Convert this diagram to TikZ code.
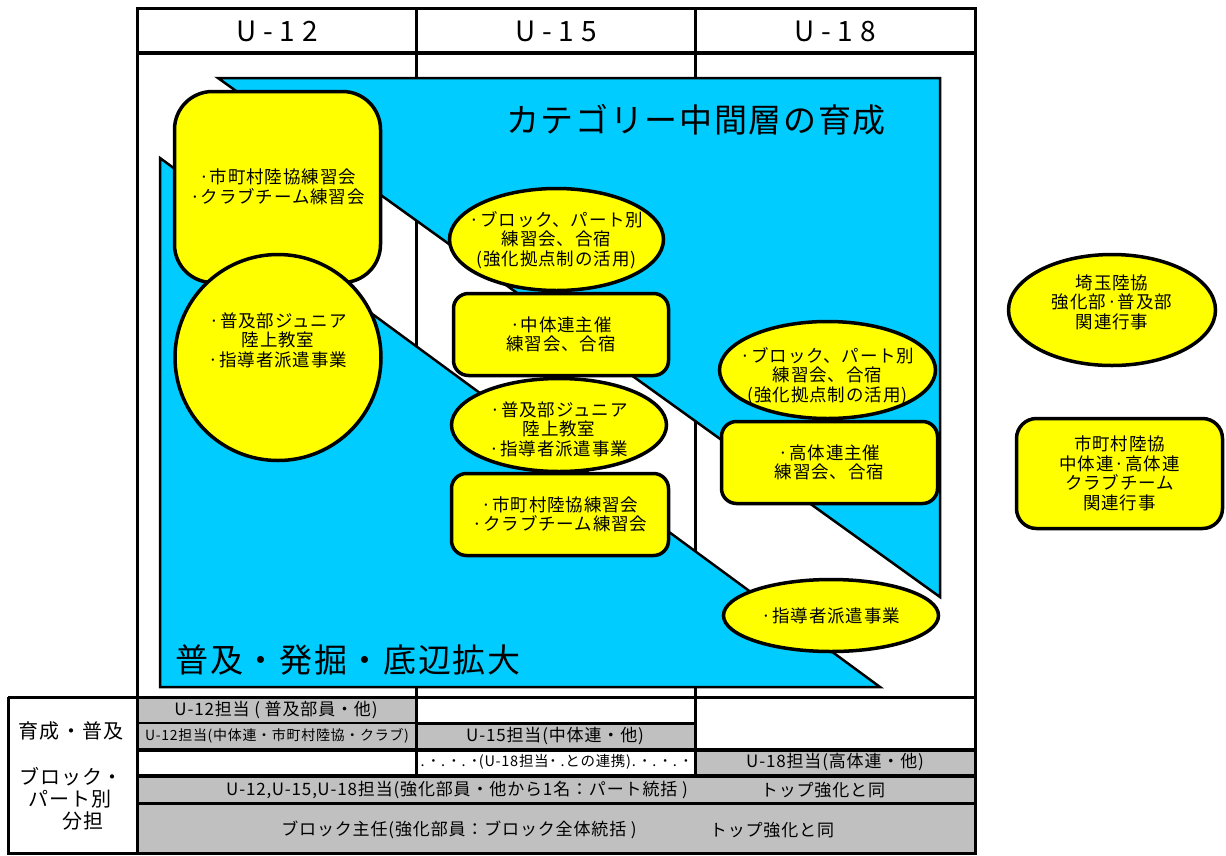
\documentclass[tikz,border=0pt]{standalone}
\usepackage{fontspec}
\setmainfont{Noto Sans CJK JP}[LetterSpace=5]
\newfontfamily\hdrfont{Noto Sans CJK JP}[LetterSpace=25]
\usetikzlibrary{shapes.geometric}
\definecolor{cyanbg}{RGB}{0,204,255}
\definecolor{yel}{RGB}{255,255,0}
\definecolor{gcell}{RGB}{192,192,192}
\tikzset{
  frameline/.style={line width=3pt},
  tri/.style={fill=cyanbg, draw=black, line width=2.5pt, line join=miter},
  ynode/.style={fill=yel, draw=black, line width=3.5pt, inner sep=0pt, align=center,
    font=\fontsize{17.5}{19.5}\selectfont},
  yell/.style={ynode, ellipse},
  yrect/.style={ynode, rectangle},
  txt/.style={inner sep=0pt, align=center, font=\fontsize{17.5}{19.5}\selectfont},
  ttl/.style={inner sep=0pt, font=\fontsize{33}{36}\selectfont},
  hdr/.style={inner sep=0pt, font=\fontsize{28}{30}\hdrfont},
  tcell/.style={inner sep=0pt, font=\fontsize{17}{19}\selectfont},
  tsmall/.style={inner sep=0pt, font=\fontsize{14}{16}\selectfont},
  tdots/.style={inner sep=0pt, font=\fontsize{14.5}{16}\selectfont},
  lab/.style={inner sep=0pt, font=\fontsize{20}{22}\selectfont},
}
\begin{document}
\begin{tikzpicture}[x=1pt,y=-1pt]
\useasboundingbox (0,0) rectangle (1226,855);
\fill[white] (0,0) rectangle (1226,855);

% column lines (behind the blue areas)
\draw[frameline] (416,8) -- (416,697);
\draw[frameline] (695,8) -- (695,697);

% blue areas
\draw[tri] (218,78) -- (940,78) -- (940,597) -- cycle;
\draw[tri] (160,158) -- (160,687) -- (880,687) -- cycle;

% frame and header
\draw[frameline] (137,8) rectangle (975,697);
\draw[line width=4pt] (137,53) -- (975,53);
\node[hdr] (h12) at (277,31) {U-12};
\node[hdr] (h15) at (556,31) {U-15};
\node[hdr] (h18) at (835,31) {U-18};

% titles
\node[ttl] (t1) at (696,120) {カテゴリー中間層の育成};
\node[ttl] (t2) at (348,660) {普及・発掘・底辺拡大};

% U-12 column
\node[yrect, rounded corners=38pt, minimum width=206, minimum height=191] (n1) at (277.5,187)
  {·市町村陸協練習会\\·クラブチーム練習会};
\node[ynode, circle, minimum size=206] (n2) at (278,357.5) {};
\node[txt] (n2t) at (278,340) {·普及部ジュニア\\陸上教室\\·指導者派遣事業};

% U-15 column
\node[yell, minimum width=214, minimum height=102] (n3) at (556.5,239.5) {};
\node[txt] (n3t) at (556.5,240) {·ブロック、パート別\\練習会、合宿\\(強化拠点制の活用)};
\node[yrect, rounded corners=15pt, minimum width=215, minimum height=82] (n4) at (561,334.5)
  {·中体連主催\\練習会、合宿};
\node[yell, minimum width=215, minimum height=93] (n5) at (559,425) {};
\node[txt] (n5t) at (559,429) {·普及部ジュニア\\陸上教室\\·指導者派遣事業};
\node[yrect, rounded corners=15pt, minimum width=217, minimum height=82] (n6) at (560,514.5)
  {·市町村陸協練習会\\·クラブチーム練習会};

% U-18 column
\node[yell, minimum width=216, minimum height=97] (n7) at (827.5,370) {};
\node[txt] (n7t) at (827.5,376) {·ブロック、パート別\\練習会、合宿\\(強化拠点制の活用)};
\node[yrect, rounded corners=15pt, minimum width=216, minimum height=82] (n8) at (829.5,462.5)
  {·高体連主催\\練習会、合宿};
\node[yell, minimum width=215, minimum height=72] (n9) at (831,615.5) {};
\node[txt] (n9t) at (831,616) {·指導者派遣事業};

% right side
\node[yell, minimum width=207, minimum height=111] (n10) at (1112,310) {};
\node[txt] (n10t) at (1112,302) {埼玉陸協\\強化部·普及部\\関連行事};
\node[yrect, rounded corners=20pt, minimum width=206, minimum height=110] (n11) at (1119.5,473.5)
  {市町村陸協\\中体連·高体連\\クラブチーム\\関連行事};

% bottom table: fills
\fill[gcell] (137,697) rectangle (416,749);
\fill[gcell] (416,723) rectangle (695,749);
\fill[gcell] (695,749) rectangle (975,776);
\fill[gcell] (137,776) rectangle (975,853);

% bottom table: lines
\draw[frameline] (8,697) -- (975,697);
\draw[frameline] (8,697) -- (8,853) -- (975,853) -- (975,697);
\draw[frameline] (137,697) -- (137,853);
\draw[line width=1.5pt] (137,723) -- (416,723);
\draw[frameline] (416,723) -- (695,723);
\draw[line width=4pt] (137,749.5) -- (975,749.5);
\draw[line width=4pt] (137,776) -- (975,776);
\draw[frameline] (137,803.5) -- (975,803.5);
\draw[frameline] (416,697) -- (416,776);
\draw[frameline] (695,697) -- (695,776);

% bottom table: texts
\node[lab] (l1) at (71,731) {育成・普及};
\node[lab] (l2) at (71,777) {ブロック・};
\node[lab] (l3) at (70,799) {パート別};
\node[lab] (l4) at (83,821) {分担};
\node[tcell] (c11) at (276,710) {U-12担当 ( 普及部員・他)};
\node[tsmall] (c21) at (277,736) {U-12担当(中体連・市町村陸協・クラブ)};
\node[tcell] (c22) at (555,736) {U-15担当(中体連・他)};
\node[tdots] (c32) at (555,762) {. ˙ . ˙ . ˙(U-18担当˙ .との連携). ˙ . ˙ . ˙};
\node[tcell] (c33) at (835,762) {U-18担当(高体連・他)};
\node[tcell] (c41) at (457,790) {U-12,U-15,U-18担当(強化部員・他から1名：パート統括 )};
\node[tcell] (c42) at (823,790) {トップ強化と同};
\node[tcell] (c51) at (459,830) {ブロック主任(強化部員：ブロック全体統括 )};
\node[tcell] (c52) at (772,830) {トップ強化と同};
\end{tikzpicture}
\end{document}
